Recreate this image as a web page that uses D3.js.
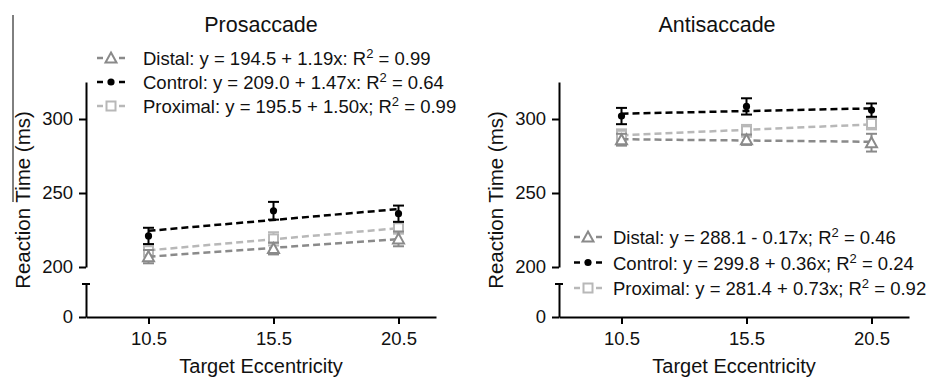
<!DOCTYPE html>
<html>
<head>
<meta charset="utf-8">
<script src="https://cdn.jsdelivr.net/npm/d3@7"></script>
<style>
  body { margin: 0; background: #fff; }
  svg { display: block; font-family: "Liberation Sans", Arial, sans-serif; }
</style>
</head>
<body>
<div id="chart"></div>
<script>
// target eccentricity (deg)
const eccentricity = [10.5, 15.5, 20.5];
const yTicks = [200, 250, 300];

// prosaccade means / errors
const proDistal = [207, 212.5, 219];
const proDistalErr = [4.5, 4, 5];
const proControl = [221, 238, 236];
const proControlErr = [5.5, 6, 5.5];
const proProximal = [211, 219, 226.5];
const proProximalErr = [4, 4.5, 4];

// antisaccade means / errors
const antiDistal = [286, 286, 284];
const antiDistalErr = [4, 3.5, 6];
const antiControl = [302, 308.5, 306];
const antiControlErr = [5.5, 5.5, 4.5];
const antiProximal = [289, 292, 297];
const antiProximalErr = [4, 4, 4];

// regression fits [intercept, slope]
const proFits = [[194.5, 1.19], [209.0, 1.47], [195.5, 1.50]];
const antiFits = [[288.1, -0.17], [299.8, 0.36], [281.4, 0.73]];

const proLegend = [
  ['Distal: y = 194.5 + 1.19x: R', ' = 0.99'],
  ['Control: y = 209.0 + 1.47x: R', ' = 0.64'],
  ['Proximal: y = 195.5 + 1.50x; R', ' = 0.99']
];
const antiLegend = [
  ['Distal: y = 288.1 - 0.17x; R', ' = 0.46'],
  ['Control: y = 299.8 + 0.36x; R', ' = 0.24'],
  ['Proximal: y = 281.4 + 0.73x; R', ' = 0.92']
];

const groupNames = ['Distal', 'Control', 'Proximal'];
const colors = { Distal: '#8a8a8a', Control: '#000000', Proximal: '#b8b8b8' };
const shapes = { Distal: 'triangle', Control: 'circle', Proximal: 'square' };

const W = 933, H = 379;
const svg = d3.select('#chart').append('svg').attr('width', W).attr('height', H);

// stray scan line at left edge of the figure
svg.append('line').attr('x1', 13).attr('x2', 13).attr('y1', 15).attr('y2', 202)
  .attr('stroke', '#000').attr('stroke-width', 1);

function marker(g, type, cx, cy, color) {
  if (type === 'circle') {
    g.append('circle').attr('cx', cx).attr('cy', cy).attr('r', 3.6).attr('fill', color);
  } else if (type === 'triangle') {
    g.append('path')
      .attr('d', `M${cx},${cy - 5.5}L${cx + 5.5},${cy + 4.5}L${cx - 5.5},${cy + 4.5}Z`)
      .attr('fill', '#fff').attr('stroke', color).attr('stroke-width', 2);
  } else {
    g.append('rect').attr('x', cx - 4.5).attr('y', cy - 4.5).attr('width', 9).attr('height', 9)
      .attr('fill', '#fff').attr('stroke', color).attr('stroke-width', 2);
  }
}

function drawPanel(opt) {
  const x = d3.scaleLinear().domain([8, 22]).range([opt.left, opt.left + 350]);
  const y = d3.scaleLinear().domain([200, 325]).range([267, 82]);
  const yLow = d3.scaleLinear().domain([0, 22]).range([317, 284]);

  const g = svg.append('g');

  // axes
  const yAx = g.append('g').attr('transform', `translate(${opt.left},0)`)
    .call(d3.axisLeft(y).tickValues(yTicks).tickSize(7).tickPadding(6).tickSizeOuter(0));
  const yAxLow = g.append('g').attr('transform', `translate(${opt.left},0)`)
    .call(d3.axisLeft(yLow).tickValues([0]).tickSize(7).tickPadding(6).tickSizeOuter(0));
  // cap at top of lower segment
  g.append('line').attr('x1', opt.left - 4).attr('x2', opt.left + 4)
    .attr('y1', yLow(22)).attr('y2', yLow(22)).attr('stroke', '#000').attr('stroke-width', 2);

  const xAx = g.append('g').attr('transform', `translate(0,${yLow(0)})`)
    .call(d3.axisBottom(x).tickValues(eccentricity).tickFormat(d3.format('.1f'))
      .tickSize(7).tickPadding(8).tickSizeOuter(0));

  [yAx, yAxLow, xAx].forEach(a => {
    a.selectAll('path, line').attr('stroke', '#000').attr('stroke-width', 2);
    a.selectAll('text').attr('font-size', 18.5).attr('fill', '#111')
      .attr('font-family', '"Liberation Sans", Arial, sans-serif');
  });

  // series
  const order = [2, 0, 1];
  order.forEach(i => {
    const name = groupNames[i];
    const vals = opt.means[i], errs = opt.errs[i], col = colors[name];
    const fit = opt.fits[i];
    const sg = g.append('g');
    // error bars
    eccentricity.forEach((e, k) => {
      const cx = x(e);
      sg.append('line').attr('x1', cx).attr('x2', cx)
        .attr('y1', y(vals[k] - errs[k])).attr('y2', y(vals[k] + errs[k]))
        .attr('stroke', col).attr('stroke-width', 2);
      [vals[k] - errs[k], vals[k] + errs[k]].forEach(v => {
        sg.append('line').attr('x1', cx - 5.5).attr('x2', cx + 5.5)
          .attr('y1', y(v)).attr('y2', y(v)).attr('stroke', col).attr('stroke-width', 2);
      });
    });
    // regression line
    const x0 = eccentricity[0], x1 = eccentricity[eccentricity.length - 1];
    sg.append('line')
      .attr('x1', x(x0)).attr('y1', y(fit[0] + fit[1] * x0))
      .attr('x2', x(x1)).attr('y2', y(fit[0] + fit[1] * x1))
      .attr('stroke', col).attr('stroke-width', 2.5).attr('stroke-dasharray', '7,4');
    eccentricity.forEach((e, k) => marker(sg, shapes[name], x(e), y(vals[k]), col));
  });

  // titles
  g.append('text').attr('x', opt.titleX).attr('y', 32).attr('text-anchor', 'middle')
    .attr('font-size', 21.5).attr('fill', '#111').text(opt.title);
  g.append('text').attr('x', opt.xTitleX).attr('y', 373).attr('text-anchor', 'middle')
    .attr('font-size', 20).attr('fill', '#111').text('Target Eccentricity');
  g.append('text').attr('transform', `translate(${opt.left - 64},200) rotate(-90)`)
    .attr('text-anchor', 'middle').attr('dominant-baseline', 'central')
    .attr('font-size', 20.5).attr('fill', '#111').text('Reaction Time (ms)');

  // legend
  groupNames.forEach((name, i) => {
    const ly = opt.legendY[i], lx = opt.legendX, col = colors[name];
    const lg = g.append('g');
    lg.append('line').attr('x1', lx - 14).attr('x2', lx - 8).attr('y1', ly).attr('y2', ly)
      .attr('stroke', col).attr('stroke-width', 2.5);
    lg.append('line').attr('x1', lx + 8).attr('x2', lx + 14).attr('y1', ly).attr('y2', ly)
      .attr('stroke', col).attr('stroke-width', 2.5);
    marker(lg, shapes[name], lx, ly, col);
    const t = lg.append('text').attr('x', opt.legendTextX).attr('y', ly + 7)
      .attr('font-size', 18.5).attr('fill', '#111');
    t.append('tspan').text(opt.legend[i][0]);
    t.append('tspan').attr('dy', -7).attr('font-size', 13).text('2');
    t.append('tspan').attr('dy', 7).text(opt.legend[i][1]);
  });
}

drawPanel({
  left: 86, title: 'Prosaccade', titleX: 261, xTitleX: 261,
  means: [proDistal, proControl, proProximal],
  errs: [proDistalErr, proControlErr, proProximalErr],
  fits: proFits, legend: proLegend,
  legendX: 111, legendTextX: 143, legendY: [58, 82, 106]
});

drawPanel({
  left: 559, title: 'Antisaccade', titleX: 717, xTitleX: 734,
  means: [antiDistal, antiControl, antiProximal],
  errs: [antiDistalErr, antiControlErr, antiProximalErr],
  fits: antiFits, legend: antiLegend,
  legendX: 588, legendTextX: 613, legendY: [237, 262.5, 288]
});
</script>
</body>
</html>
